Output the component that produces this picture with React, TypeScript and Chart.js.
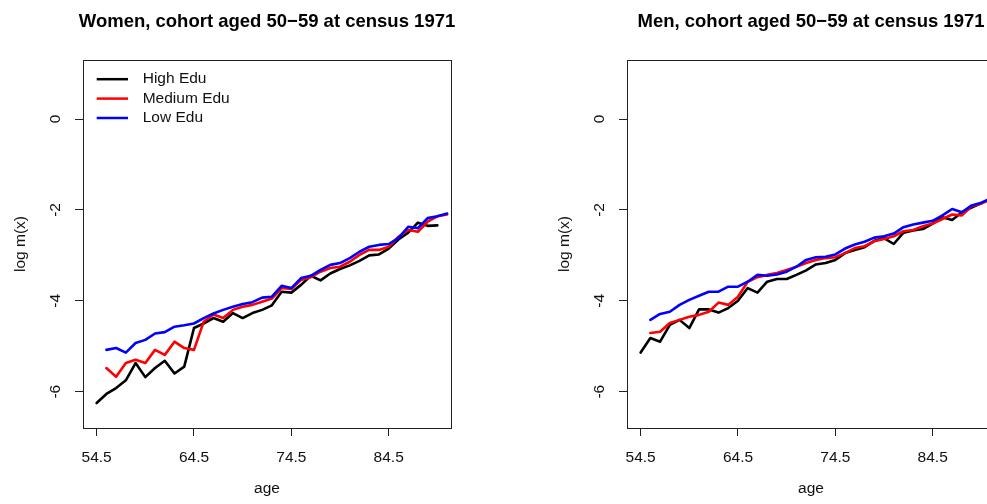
import React, { useEffect, useRef } from "react";
import { Chart, registerables } from "chart.js";

Chart.register(...registerables);

const FONT = "'Liberation Sans', Arial, Helvetica, sans-serif";

// ages (x) for the High-education series and for the Medium/Low series
const agesHigh = [
  54.5, 55.5, 56.5, 57.5, 58.5, 59.5, 60.5, 61.5, 62.5, 63.5, 64.5, 65.5,
  66.5, 67.5, 68.5, 69.5, 70.5, 71.5, 72.5, 73.5, 74.5, 75.5, 76.5, 77.5,
  78.5, 79.5, 80.5, 81.5, 82.5, 83.5, 84.5, 85.5, 86.5, 87.5, 88.5, 89.5,
];
const agesMedLow = [
  55.5, 56.5, 57.5, 58.5, 59.5, 60.5, 61.5, 62.5, 63.5, 64.5, 65.5, 66.5,
  67.5, 68.5, 69.5, 70.5, 71.5, 72.5, 73.5, 74.5, 75.5, 76.5, 77.5, 78.5,
  79.5, 80.5, 81.5, 82.5, 83.5, 84.5, 85.5, 86.5, 87.5, 88.5, 89.5, 90.5,
];

// Women
const womenHigh = [
  -6.25, -6.05, -5.92, -5.75, -5.37, -5.68, -5.48, -5.32, -5.6, -5.45, -4.6, -4.5,
  -4.38, -4.46, -4.27, -4.38, -4.27, -4.2, -4.1, -3.8, -3.82, -3.65, -3.45, -3.55,
  -3.4, -3.3, -3.22, -3.12, -3.0, -2.98, -2.85, -2.65, -2.5, -2.28, -2.35, -2.34,
];
const womenMedium = [
  -5.48, -5.67, -5.37, -5.3, -5.37, -5.08, -5.19, -4.9, -5.04, -5.08, -4.46, -4.3,
  -4.38, -4.2, -4.13, -4.09, -4.02, -3.95, -3.72, -3.74, -3.54, -3.48, -3.36, -3.28,
  -3.25, -3.14, -2.99, -2.88, -2.88, -2.81, -2.59, -2.44, -2.48, -2.26, -2.14, -2.1,
];
const womenLow = [
  -5.08, -5.04, -5.14, -4.93, -4.86, -4.72, -4.69, -4.57, -4.54, -4.5, -4.38, -4.28,
  -4.2, -4.13, -4.07, -4.03, -3.93, -3.91, -3.67, -3.72, -3.5, -3.45, -3.32, -3.21,
  -3.17, -3.06, -2.92, -2.81, -2.77, -2.75, -2.62, -2.37, -2.4, -2.18, -2.14, -2.08,
];

// Men
const menHigh = [
  -5.14, -4.82, -4.9, -4.53, -4.42, -4.6, -4.19, -4.19, -4.26, -4.16, -4.0, -3.72,
  -3.82, -3.58, -3.52, -3.52, -3.43, -3.33, -3.2, -3.17, -3.1, -2.95, -2.88, -2.82,
  -2.68, -2.62, -2.75, -2.5, -2.45, -2.42, -2.3, -2.16, -2.22, -2.05, -1.95, -1.85,
];
const menMedium = [
  -4.71, -4.68, -4.49, -4.42, -4.35, -4.31, -4.24, -4.04, -4.09, -3.91, -3.58, -3.48,
  -3.43, -3.39, -3.32, -3.25, -3.17, -3.1, -3.06, -3.04, -2.95, -2.84, -2.8, -2.69,
  -2.64, -2.58, -2.47, -2.44, -2.36, -2.3, -2.2, -2.1, -2.12, -1.92, -1.86, -1.76,
];
const menLow = [
  -4.42, -4.29, -4.24, -4.09, -3.98, -3.89, -3.8, -3.8, -3.69, -3.69, -3.58, -3.43,
  -3.45, -3.42, -3.36, -3.25, -3.1, -3.04, -3.03, -2.98, -2.85, -2.76, -2.7, -2.61,
  -2.58, -2.52, -2.38, -2.32, -2.28, -2.24, -2.12, -1.98, -2.05, -1.9, -1.84, -1.74,
];

const xTicks = [54.5, 64.5, 74.5, 84.5];
const yTicks = [0, -2, -4, -6];
const seriesLabels = ["High Edu", "Medium Edu", "Low Edu"];
const seriesColors = ["#000000", "#ff0000", "#0000ff"];

const X_MIN = 53.1;
const X_MAX = 90.9;
const Y_MIN = -6.8;
const Y_MAX = 1.3;

function toPoints(xs: number[], ys: number[]) {
  return ys.map((y, i) => ({ x: xs[i], y }));
}

type PanelProps = {
  title: string;
  high: number[];
  medium: number[];
  low: number[];
  showLegend: boolean;
  left: number;
  width: number;
  areaLeft: number;
  yTitlePad: number;
};

function Panel(props: PanelProps) {
  const ref = useRef<HTMLCanvasElement | null>(null);

  useEffect(() => {
    const canvas = ref.current;
    if (!canvas) return;
    const { title, high, medium, low, showLegend, width, areaLeft, yTitlePad } = props;
    const areaWidth = 368;
    const padRight = width - areaLeft - areaWidth;

    const decor = {
      id: "decor",
      afterDraw(chart: any) {
        const ctx = chart.ctx as CanvasRenderingContext2D;
        const { left, top, right, bottom } = chart.chartArea;
        ctx.save();
        // main title centred over the plot box
        ctx.fillStyle = "#000";
        ctx.font = `bold 18.5px ${FONT}`;
        ctx.textAlign = "center";
        ctx.textBaseline = "middle";
        ctx.fillText(title, (left + right) / 2, 22);
        // plot box
        ctx.strokeStyle = "#222";
        ctx.lineWidth = 1;
        ctx.strokeRect(
          Math.round(left) + 0.5,
          Math.round(top) + 0.5,
          Math.round(right - left),
          Math.round(bottom - top)
        );
        // rotated y tick labels (R style)
        const ys = chart.scales.y;
        ctx.fillStyle = "#111";
        ctx.font = `15.5px ${FONT}`;
        yTicks.forEach((v) => {
          const py = ys.getPixelForValue(v);
          ctx.save();
          ctx.translate(left - 27, py);
          ctx.rotate(-Math.PI / 2);
          ctx.fillText(String(v), 0, 0);
          ctx.restore();
        });
        if (showLegend) {
          ctx.textAlign = "left";
          seriesLabels.forEach((lab, i) => {
            const y = top + 19.2 + i * 19.4;
            ctx.strokeStyle = seriesColors[i];
            ctx.lineWidth = 2.5;
            ctx.beginPath();
            ctx.moveTo(left + 13.7, y);
            ctx.lineTo(left + 45, y);
            ctx.stroke();
            ctx.fillStyle = "#111";
            ctx.fillText(lab, left + 59.7, y);
          });
        }
        ctx.restore();
      },
    };

    const mk = (label: string, xs: number[], ys: number[], color: string, order: number) => ({
      label,
      data: toPoints(xs, ys),
      borderColor: color,
      backgroundColor: color,
      borderWidth: 2.6,
      pointRadius: 0,
      tension: 0,
      fill: false,
      order,
      borderJoinStyle: "round" as const,
      borderCapStyle: "round" as const,
    });

    const gridOpts = {
      display: true,
      drawOnChartArea: false,
      drawTicks: true,
      tickLength: 8,
      color: "#222",
      lineWidth: 1,
    };

    const chart = new Chart(canvas, {
      type: "line",
      data: {
        datasets: [
          mk(seriesLabels[0], agesHigh, high, seriesColors[0], 3),
          mk(seriesLabels[1], agesMedLow, medium, seriesColors[1], 2),
          mk(seriesLabels[2], agesMedLow, low, seriesColors[2], 1),
        ],
      },
      options: {
        animation: false,
        responsive: false,
        devicePixelRatio: 1,
        layout: { padding: { left: 0, right: padRight, top: 60, bottom: 0 } },
        plugins: {
          legend: { display: false },
          tooltip: { enabled: false },
          title: { display: false },
        },
        scales: {
          x: {
            type: "linear",
            min: X_MIN,
            max: X_MAX,
            afterBuildTicks: (s: any) => {
              s.ticks = xTicks.map((v) => ({ value: v }));
            },
            afterFit: (s: any) => {
              s.height = 76;
            },
            grid: gridOpts,
            border: { display: false },
            ticks: {
              autoSkip: false,
              maxRotation: 0,
              minRotation: 0,
              padding: 12,
              color: "#111",
              font: { family: FONT, size: 15.5 },
              callback: (v: any) => String(v),
            },
            title: {
              display: true,
              text: "age",
              color: "#111",
              font: { family: FONT, size: 15.5 },
              padding: { top: 0, bottom: 5.5 },
            },
          },
          y: {
            type: "linear",
            min: Y_MIN,
            max: Y_MAX,
            afterBuildTicks: (s: any) => {
              s.ticks = yTicks.map((v) => ({ value: v }));
            },
            afterFit: (s: any) => {
              s.width = areaLeft;
            },
            grid: gridOpts,
            border: { display: false },
            ticks: { display: false },
            title: {
              display: true,
              text: "log m(x)",
              color: "#111",
              font: { family: FONT, size: 15.5 },
              padding: { top: yTitlePad, bottom: 0 },
            },
          },
        },
      } as any,
      plugins: [decor],
    });
    return () => chart.destroy();
  }, []);

  return (
    <canvas
      ref={ref}
      width={props.width}
      height={504}
      style={{ position: "absolute", left: props.left, top: 0, width: props.width, height: 504 }}
    />
  );
}

export default function App() {
  return (
    <div
      style={{
        position: "fixed",
        left: 0,
        top: 0,
        width: 987,
        height: 504,
        overflow: "hidden",
        background: "#fff",
      }}
    >
      <Panel
        title="Women, cohort aged 50−59 at census 1971"
        high={womenHigh}
        medium={womenMedium}
        low={womenLow}
        showLegend={true}
        left={0}
        width={534}
        areaLeft={83}
        yTitlePad={11.7}
      />
      <Panel
        title="Men, cohort aged 50−59 at census 1971"
        high={menHigh}
        medium={menMedium}
        low={menLow}
        showLegend={false}
        left={540}
        width={542}
        areaLeft={87}
        yTitlePad={15.7}
      />
    </div>
  );
}
